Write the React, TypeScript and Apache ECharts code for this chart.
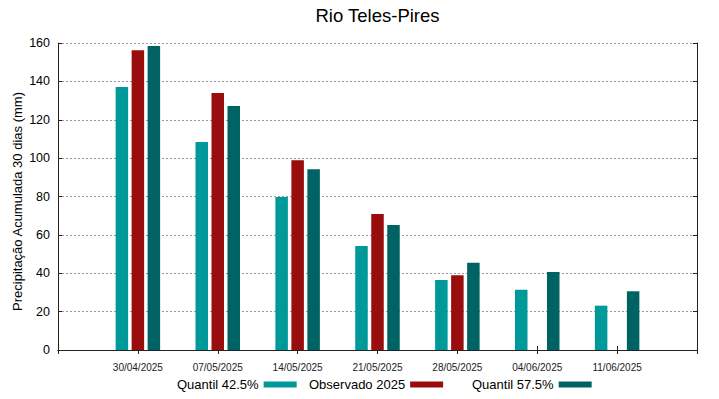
import React, { useEffect, useRef } from "react";
import * as echarts from "echarts";

const categories = ["", "30/04/2025", "07/05/2025", "14/05/2025", "21/05/2025", "28/05/2025", "04/06/2025", "11/06/2025", ""];
const quantil425 = [null, 137.1, 108.4, 79.7, 54.2, 36.5, 31.4, 23.1, null];
const observado2025 = [null, 156.2, 133.9, 98.9, 70.9, 38.9, null, null, null];
const quantil575 = [null, 158.4, 127.2, 94.2, 65.1, 45.5, 40.6, 30.6, null];
const seriesNames = ["Quantil 42.5%", "Observado 2025", "Quantil 57.5%"];
const colors = ["#009999", "#990d0d", "#006363"];

export default function App() {
  const ref = useRef<HTMLDivElement>(null);
  useEffect(() => {
    if (!ref.current) return;
    const chart = echarts.init(ref.current, null, { renderer: "svg" });
    const font = "Liberation Sans, Arial, sans-serif";
    const tickStyle = { show: true, inside: true, length: 4, lineStyle: { color: "#222" } };
    const legendBase = {
      top: 378,
      padding: 0,
      align: "right" as const,
      itemWidth: 33,
      itemHeight: 6,
      icon: "rect",
      textStyle: { fontSize: 13, color: "#000", fontFamily: font },
    };
    chart.setOption({
      animation: false,
      textStyle: { fontFamily: font },
      graphic: [
        {
          type: "text",
          x: 377.5,
          y: 15,
          style: {
            text: "Rio Teles-Pires",
            fill: "#000",
            font: "18.5px Liberation Sans, Arial, sans-serif",
            align: "center",
            verticalAlign: "middle",
          },
        },
        {
          type: "text",
          x: 17,
          y: 201.5,
          rotation: Math.PI / 2,
          style: {
            text: "Precipitação Acumulada 30 dias (mm)",
            fill: "#000",
            font: "13px Liberation Sans, Arial, sans-serif",
            align: "center",
            verticalAlign: "middle",
          },
        },
      ],
      legend: [
        { ...legendBase, left: 177, data: [seriesNames[0]] },
        { ...legendBase, left: 309, data: [seriesNames[1]] },
        { ...legendBase, left: 472, data: [seriesNames[2]] },
      ],
      grid: { left: 58, right: 22, top: 43, bottom: 49, containLabel: false, outerBoundsMode: "none" },
      xAxis: [
        {
          type: "category",
          data: categories,
          boundaryGap: false,
          axisLine: { lineStyle: { color: "#222", width: 1 } },
          axisTick: { ...tickStyle, interval: 0 },
          axisLabel: { interval: 0, fontSize: 10, color: "#222", margin: 12, fontFamily: font },
          splitLine: { show: false },
        },
        {
          type: "category",
          data: categories,
          position: "top",
          boundaryGap: false,
          axisLine: { lineStyle: { color: "#222", width: 1 } },
          axisTick: { ...tickStyle, interval: 0 },
          axisLabel: { show: false },
          splitLine: { show: false },
        },
      ],
      yAxis: [
        {
          type: "value",
          min: 0,
          max: 160,
          interval: 20,
          axisLine: { show: true, lineStyle: { color: "#222", width: 1 } },
          axisTick: tickStyle,
          axisLabel: { fontSize: 12.5, color: "#000", margin: 8, fontFamily: font },
          splitLine: { show: true, lineStyle: { color: "#999", type: [2, 2], width: 1 } },
        },
        {
          type: "value",
          min: 0,
          max: 160,
          interval: 20,
          position: "right",
          axisLine: { show: true, lineStyle: { color: "#222", width: 1 } },
          axisTick: tickStyle,
          axisLabel: { show: false },
          splitLine: { show: false },
        },
      ],
      series: [
        { name: seriesNames[0], type: "bar", data: quantil425, itemStyle: { color: colors[0] }, barWidth: 12.5, barGap: "28%" },
        { name: seriesNames[1], type: "bar", data: observado2025, itemStyle: { color: colors[1] }, barWidth: 12.5, barGap: "28%" },
        { name: seriesNames[2], type: "bar", data: quantil575, itemStyle: { color: colors[2] }, barWidth: 12.5, barGap: "28%" },
      ],
    });
    return () => chart.dispose();
  }, []);
  return <div ref={ref} style={{ width: 719, height: 399, position: "absolute", left: 0, top: 0 }} />;
}
